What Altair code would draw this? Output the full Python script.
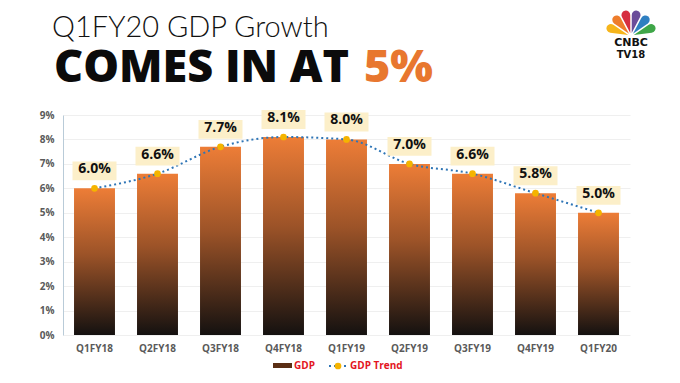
import altair as alt
import pandas as pd

quarters = ["Q1FY18", "Q2FY18", "Q3FY18", "Q4FY18", "Q1FY19", "Q2FY19", "Q3FY19", "Q4FY19", "Q1FY20"]
gdp = [6.0, 6.6, 7.7, 8.1, 8.0, 7.0, 6.6, 5.8, 5.0]
y_ticks = [0, 1, 2, 3, 4, 5, 6, 7, 8, 9]

feather_colors = ["#F6B51B", "#EE7D2B", "#D62E40", "#6B4C9A", "#2F7FC1", "#3FA648"]
feather_share = [1, 1, 1, 1, 1, 1]

df = pd.DataFrame({"q": quarters, "gdp": gdp})
logo_df = pd.DataFrame({"c": feather_colors, "v": feather_share, "i": list(range(6))})
one = pd.DataFrame({"k": [0]})

FONT = "Open Sans"
BIG = "'Open Sans'"
yscale = alt.Scale(domain=[0, 9], nice=False)
yaxis = alt.Axis(values=y_ticks, labelExpr="datum.value + '%'", labelFont=FONT,
                 labelFontWeight="bold", labelFontSize=10, labelColor="#5a5a5a",
                 labelPadding=9, ticks=False, domainColor="#b9cbd8",
                 gridColor="#efefef", labelOverlap=False, title=None)
xenc = alt.X("q:N", sort=quarters, title=None,
             scale=alt.Scale(paddingInner=0.35, paddingOuter=0.175),
             axis=alt.Axis(labelFont=FONT, labelFontWeight="bold", labelFontSize=10,
                           labelColor="#5a5a5a", labelPadding=8, ticks=False, domain=False,
                           labelAngle=0))

base = alt.Chart(df)

bars = base.mark_bar(
    color=alt.Gradient(gradient="linear", x1=0, x2=0, y1=0, y2=1,
                       stops=[alt.GradientStop(offset=0, color="#ED7D37"),
                              alt.GradientStop(offset=0.45, color="#9c5328"),
                              alt.GradientStop(offset=1, color="#141110")])
).encode(x=xenc, y=alt.Y("gdp:Q", scale=yscale, axis=yaxis))

label_box = base.transform_calculate(
    lo="datum.gdp + 0.33", hi="datum.gdp + 1.1"
).mark_bar(color="#FCEFC9", width=44).encode(
    x=alt.X("q:N", sort=quarters), y=alt.Y("lo:Q", scale=yscale, axis=yaxis), y2="hi:Q")

labels = base.transform_calculate(
    lab="format(datum.gdp, '.1f') + '%'"
).mark_text(font=FONT, fontWeight="bold", fontSize=14, color="#111111", dy=-19
).encode(x=alt.X("q:N", sort=quarters), y=alt.Y("gdp:Q", scale=yscale, axis=yaxis), text="lab:N")

line = base.mark_line(color="#2E75B6", strokeDash=[2, 3], strokeWidth=2,
                      interpolate="monotone").encode(
    x=alt.X("q:N", sort=quarters), y=alt.Y("gdp:Q", scale=yscale, axis=yaxis))
pts = base.mark_circle(color="#F5B400", size=45, opacity=1).encode(
    x=alt.X("q:N", sort=quarters), y=alt.Y("gdp:Q", scale=yscale, axis=yaxis))

# title
t1 = alt.Chart(one).mark_text(text="Q1FY20 GDP Growth", font="Lato", fontWeight=300,
                              fontSize=29, color="#111111", align="left", baseline="alphabetic"
                              ).encode(x=alt.value(-11), y=alt.value(-78))
t2 = alt.Chart(one).mark_text(text="COMES IN AT", font=BIG,
                              fontWeight=800, fontSize=45, color="#0b0b0b", align="left",
                              baseline="alphabetic").encode(x=alt.value(-9), y=alt.value(-33))
t3 = alt.Chart(one).mark_text(text="5%", font=BIG,
                              fontWeight=800, fontSize=45, color="#E8772F", align="left",
                              baseline="alphabetic").encode(x=alt.value(301), y=alt.value(-33))

# logo
fan = alt.Chart(logo_df).mark_arc(outerRadius=26, innerRadius=3, padAngle=0.06, cornerRadius=6).encode(
    theta=alt.Theta("v:Q", stack=True, scale=alt.Scale(range=[-1.45, 1.45])),
    color=alt.Color("c:N", scale=None),
    order=alt.Order("i:Q"),
    x=alt.value(568), y=alt.value(-79))
cnbc = alt.Chart(one).mark_text(text="CNBC", font="DejaVu Sans", fontWeight="bold", fontSize=11,
                                color="#111111").encode(x=alt.value(568), y=alt.value(-72))
tv18 = alt.Chart(one).mark_text(text="TV18", font="DejaVu Sans", fontWeight="bold", fontSize=10,
                                color="#111111").encode(x=alt.value(568), y=alt.value(-60))

# legend
leg_sw = alt.Chart(one).mark_rect(color="#5a2e14").encode(
    x=alt.value(210), x2=alt.value(229), y=alt.value(248), y2=alt.value(253))
leg_t1 = alt.Chart(one).mark_text(text="GDP", font=FONT, fontWeight="bold", fontSize=10,
                                  color="#E3151E", align="left").encode(x=alt.value(231), y=alt.value(251))
leg_line = alt.Chart(one).mark_rule(color="#2E75B6", strokeDash=[2, 3], strokeWidth=2).encode(
    x=alt.value(266), x2=alt.value(284), y=alt.value(251))
leg_pt = alt.Chart(one).mark_circle(color="#F5B400", size=45, opacity=1).encode(
    x=alt.value(275), y=alt.value(251))
leg_t2 = alt.Chart(one).mark_text(text="GDP Trend", font=FONT, fontWeight="bold", fontSize=10,
                                  color="#E3151E", align="left").encode(x=alt.value(287), y=alt.value(251))

chart = alt.layer(
    bars, line, label_box, labels, pts,
    t1, t2, t3, fan, cnbc, tv18, leg_sw, leg_t1, leg_line, leg_pt, leg_t2
).properties(
    width=567, height=220,
    autosize=alt.AutoSizeParams(type="none"),
    padding={"left": 55, "top": 107, "right": 42, "bottom": 40},
    background="white"
).configure_view(stroke=None)

chart.save("out.html", embed_options={"renderer": "svg", "actions": False})
